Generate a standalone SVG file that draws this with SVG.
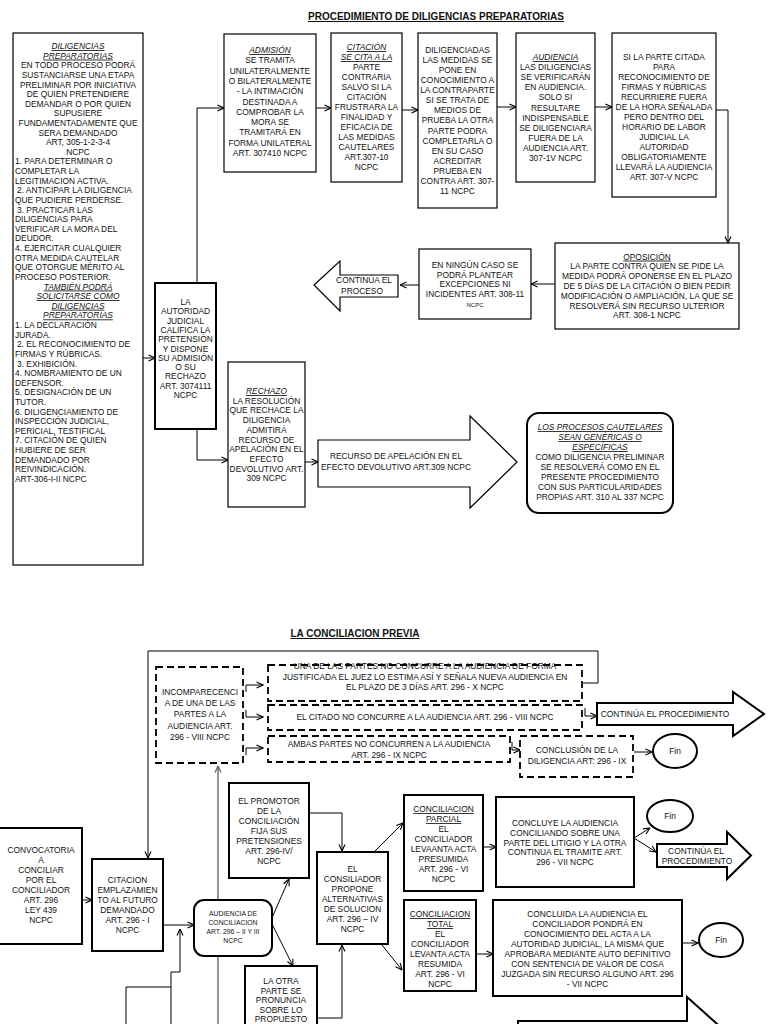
<svg xmlns="http://www.w3.org/2000/svg" width="768" height="1024" viewBox="0 0 768 1024">
<style>
.t{font-family:"Liberation Sans",Arial,sans-serif;font-size:8.4px;fill:#111;text-anchor:middle}
.l{text-anchor:start}
.iu{font-style:italic;text-decoration:underline}
.u{text-decoration:underline}
.h{font-weight:bold;font-size:10px;text-decoration:underline}
.b{fill:#fff;stroke:#000;stroke-width:1.2}
.bt{fill:#fff;stroke:#000;stroke-width:2}
.d{fill:#fff;stroke:#000;stroke-width:1.8;stroke-dasharray:7 4}
.c{fill:none;stroke:#000;stroke-width:1}
.g{fill:none;stroke:#666;stroke-width:1.4}
</style>
<defs>
<marker id="a" viewBox="0 0 8 8" refX="7.5" refY="4" markerWidth="8" markerHeight="8" markerUnits="userSpaceOnUse" orient="auto"><path d="M1,1 L7.5,4 L1,7" fill="none" stroke="#000" stroke-width="1.1"/></marker>
<marker id="ag" viewBox="0 0 8 8" refX="7.5" refY="4" markerWidth="8" markerHeight="8" markerUnits="userSpaceOnUse" orient="auto"><path d="M1,1 L7.5,4 L1,7" fill="none" stroke="#555" stroke-width="1.1"/></marker>
</defs>
<rect width="768" height="1024" fill="#fff"/>

<text class="t h" x="436" y="20">PROCEDIMIENTO DE DILIGENCIAS PREPARATORIAS</text>
<text class="t h" x="355" y="637">LA CONCILIACION PREVIA</text>

<g id="connectors">
<path class="c" d="M143,358 H155" marker-end="url(#a)"/>
<path class="c" d="M197,283 V108 H224" marker-end="url(#a)"/>
<path class="c" d="M316,108 H331" marker-end="url(#a)"/>
<path class="c" d="M402,110 H418" marker-end="url(#a)"/>
<path class="c" d="M497,107 H516" marker-end="url(#a)"/>
<path class="c" d="M595,107 H612" marker-end="url(#a)"/>
<path class="c" d="M716,110 H728 V243" marker-end="url(#a)"/>
<path class="c" d="M555,284 H531" marker-end="url(#a)"/>
<path class="c" d="M419,285 H400" marker-end="url(#a)"/>
<path class="c" d="M197,429 V460 H228" marker-end="url(#a)"/>
<path class="c" d="M305,462 H318" marker-end="url(#a)"/>

<path class="c" stroke="#444" d="M583,683 H598 V651 H148 V858" marker-end="url(#a)"/>
<path class="g" d="M218,1024 V766" marker-end="url(#ag)"/>
<path class="c" d="M246,692 V685 H263" marker-end="url(#a)"/>
<path class="c" d="M246,710 V717 H263" marker-end="url(#a)"/>
<path class="c" d="M246,755 V748 H263" marker-end="url(#a)"/>
<path class="c" d="M512,742 V750 H520" marker-end="url(#a)"/>
<path class="c" d="M634,752 H652" marker-end="url(#a)"/>
<path class="c" d="M585,708 V716 H597" marker-end="url(#a)"/>
<path class="c" d="M82,900 H92" marker-end="url(#a)"/>
<path class="c" d="M163,925 H194" marker-end="url(#a)"/>
<path class="c" d="M126,1024 V987 H171"/>
<path class="c" d="M171,1024 V972 H180 V929" marker-end="url(#a)"/>
<path class="c" d="M271,920 L289,879" marker-end="url(#a)"/>
<path class="c" d="M271,922 L293,966" marker-end="url(#a)"/>
<path class="c" d="M309,813 H342 V851" marker-end="url(#a)"/>
<path class="c" d="M317,1018 H342 V945" marker-end="url(#a)"/>
<path class="c" d="M375,851 L403,823" marker-end="url(#a)"/>
<path class="c" d="M382,945 L402,970" marker-end="url(#a)"/>
<path class="c" d="M483,847 H496" marker-end="url(#a)"/>
<path class="c" d="M634,838 L650,828" marker-end="url(#a)"/>
<path class="c" d="M634,838 L656,852" marker-end="url(#a)"/>
<path class="c" d="M476,954 H493" marker-end="url(#a)"/>
<path class="c" d="M682,943 H698" marker-end="url(#a)"/>
</g>

<g id="n-diligencias">
<rect class="b" x="13" y="33" width="130" height="532" stroke-width="1.5"/>
<text class="t iu" x="78" y="49">DILIGENCIAS</text>
<text class="t iu" x="78" y="58.6">PREPARATORIAS</text>
<text class="t" x="78" y="68.2">EN TODO PROCESO PODRÁ</text>
<text class="t" x="78" y="77.9">SUSTANCIARSE UNA ETAPA</text>
<text class="t" x="78" y="87.5">PRELIMINAR POR INICIATIVA</text>
<text class="t" x="78" y="97.1">DE QUIEN PRETENDIERE</text>
<text class="t" x="78" y="106.7">DEMANDAR O POR QUIEN</text>
<text class="t" x="78" y="116.3">SUPUSIERE</text>
<text class="t" x="78" y="126">FUNDAMENTADAMENTE QUE</text>
<text class="t" x="78" y="135.6">SERA DEMANDADO</text>
<text class="t" x="78" y="145.2">ART, 305-1-2-3-4</text>
<text class="t" x="78" y="154.8">NCPC</text>
<text class="t l" x="15" y="164.4">1. PARA DETERMINAR O</text>
<text class="t l" x="15" y="174.1">COMPLETAR LA</text>
<text class="t l" x="15" y="183.7">LEGITIMACION ACTIVA.</text>
<text class="t l" x="17" y="193.3">2. ANTICIPAR LA DILIGENCIA</text>
<text class="t l" x="15" y="202.9">QUE PUDIERE PERDERSE.</text>
<text class="t l" x="17" y="212.5">3. PRACTICAR LAS</text>
<text class="t l" x="15" y="222.2">DILIGENCIAS PARA</text>
<text class="t l" x="15" y="231.8">VERIFICAR LA MORA DEL</text>
<text class="t l" x="15" y="241.4">DEUDOR.</text>
<text class="t l" x="15" y="251">4.  EJERCITAR CUALQUIER</text>
<text class="t l" x="15" y="260.6">OTRA MEDIDA CAUTELAR</text>
<text class="t l" x="15" y="270.3">QUE OTORGUE MÉRITO AL</text>
<text class="t l" x="15" y="279.9">PROCESO POSTERIOR.</text>
<text class="t iu" x="78" y="289.5">TAMBIÉN PODRÁ</text>
<text class="t iu" x="78" y="299.1">SOLICITARSE COMO</text>
<text class="t iu" x="78" y="308.7">DILIGENCIAS</text>
<text class="t iu" x="78" y="318.4">PREPARATORIAS</text>
<text class="t l" x="15" y="328">1. LA DECLARACIÓN</text>
<text class="t l" x="15" y="337.6">JURADA.</text>
<text class="t l" x="17" y="347.2">2. EL RECONOCIMIENTO DE</text>
<text class="t l" x="15" y="356.8">FIRMAS Y RÚBRICAS.</text>
<text class="t l" x="17" y="366.5">3. EXHIBICIÓN.</text>
<text class="t l" x="15" y="376.1">4. NOMBRAMIENTO DE UN</text>
<text class="t l" x="15" y="385.7">DEFENSOR.</text>
<text class="t l" x="15" y="395.3">5. DESIGNACIÓN DE UN</text>
<text class="t l" x="15" y="404.9">TUTOR.</text>
<text class="t l" x="15" y="414.6">6. DILIGENCIAMIENTO DE</text>
<text class="t l" x="15" y="424.2">INSPECCIÓN JUDICIAL,</text>
<text class="t l" x="15" y="433.8">PERICIAL, TESTIFICAL</text>
<text class="t l" x="15" y="443.4">7. CITACIÓN DE QUIEN</text>
<text class="t l" x="15" y="453">HUBIERE DE SER</text>
<text class="t l" x="15" y="462.7">DEMANDADO POR</text>
<text class="t l" x="15" y="472.3">REIVINDICACIÓN.</text>
<text class="t l" x="15" y="481.9">ART-306-I-II NCPC</text>
</g>

<g id="n-admision">
<rect class="b" x="224" y="34" width="92" height="138"/>
<text class="t" x="270" y="53"><tspan class="iu">ADMISIÓN</tspan><tspan x="270" dy="10.3">SE TRAMITA</tspan><tspan x="270" dy="10.3">UNILATERALMENTE</tspan><tspan x="270" dy="10.3">O BILATERALMENTE</tspan><tspan x="270" dy="10.3">- LA INTIMACIÓN</tspan><tspan x="270" dy="10.3">DESTINADA A</tspan><tspan x="270" dy="10.3">COMPROBAR LA</tspan><tspan x="270" dy="10.3">MORA SE</tspan><tspan x="270" dy="10.3">TRAMITARÁ EN</tspan><tspan x="270" dy="10.3">FORMA UNILATERAL</tspan><tspan x="270" dy="10.3">ART. 307410 NCPC</tspan></text>
</g>

<g id="n-citacion">
<rect class="b" x="331" y="33" width="71" height="149"/>
<text class="t" x="366.5" y="50"><tspan class="iu">CITACIÓN</tspan><tspan class="iu" x="366.5" dy="10">SE CITA A LA</tspan><tspan x="366.5" dy="10">PARTE</tspan><tspan x="366.5" dy="10">CONTRARIA</tspan><tspan x="366.5" dy="10">SALVO SI LA</tspan><tspan x="366.5" dy="10">CITACIÓN</tspan><tspan x="366.5" dy="10">FRUSTRARA LA</tspan><tspan x="366.5" dy="10">FINALIDAD Y</tspan><tspan x="366.5" dy="10">EFICACIA DE</tspan><tspan x="366.5" dy="10">LAS MEDIDAS</tspan><tspan x="366.5" dy="10">CAUTELARES</tspan><tspan x="366.5" dy="10">ART.307-10</tspan><tspan x="366.5" dy="10">NCPC</tspan></text>
</g>

<g id="n-diligenciadas">
<rect class="b" x="418" y="33" width="79" height="175"/>
<text class="t" x="457.5" y="53"><tspan>DILIGENCIADAS</tspan><tspan x="457.5" dy="10.07">LAS MEDIDAS SE</tspan><tspan x="457.5" dy="10.07">PONE EN</tspan><tspan x="457.5" dy="10.07">CONOCIMIENTO A</tspan><tspan x="457.5" dy="10.07">LA CONTRAPARTE</tspan><tspan x="457.5" dy="10.07">SI SE TRATA DE</tspan><tspan x="457.5" dy="10.07">MEDIOS DE</tspan><tspan x="457.5" dy="10.07">PRUEBA LA OTRA</tspan><tspan x="457.5" dy="10.07">PARTE PODRA</tspan><tspan x="457.5" dy="10.07">COMPLETARLA O</tspan><tspan x="457.5" dy="10.07">EN SU CASO</tspan><tspan x="457.5" dy="10.07">ACREDITAR</tspan><tspan x="457.5" dy="10.07">PRUEBA EN</tspan><tspan x="457.5" dy="10.07">CONTRA ART. 307-</tspan><tspan x="457.5" dy="10.07">11 NCPC</tspan></text>
</g>

<g id="n-audiencia">
<rect class="b" x="516" y="33" width="79" height="149"/>
<text class="t" x="555.5" y="60"><tspan class="iu">AUDIENCIA</tspan><tspan x="555.5" dy="10.1">LAS DILIGENCIAS</tspan><tspan x="555.5" dy="10.1">SE VERIFICARÁN</tspan><tspan x="555.5" dy="10.1">EN AUDIENCIA.</tspan><tspan x="555.5" dy="10.1">SOLO SI</tspan><tspan x="555.5" dy="10.1">RESULTARE</tspan><tspan x="555.5" dy="10.1">INDISPENSABLE</tspan><tspan x="555.5" dy="10.1">SE DILIGENCIARA</tspan><tspan x="555.5" dy="10.1">FUERA DE LA</tspan><tspan x="555.5" dy="10.1">AUDIENCIA ART.</tspan><tspan x="555.5" dy="10.1">307-1V NCPC</tspan></text>
</g>

<g id="n-silaparte">
<rect class="b" x="612" y="33" width="104" height="164"/>
<text class="t" x="664" y="60"><tspan>SI LA PARTE CITADA</tspan><tspan x="664" dy="10">PARA</tspan><tspan x="664" dy="10">RECONOCIMIENTO DE</tspan><tspan x="664" dy="10">FIRMAS Y RÚBRICAS</tspan><tspan x="664" dy="10">RECURRIERE FUERA</tspan><tspan x="664" dy="10">DE LA HORA SEÑALADA</tspan><tspan x="664" dy="10">PERO DENTRO DEL</tspan><tspan x="664" dy="10">HORARIO DE LABOR</tspan><tspan x="664" dy="10">JUDICIAL LA</tspan><tspan x="664" dy="10">AUTORIDAD</tspan><tspan x="664" dy="10">OBLIGATORIAMENTE</tspan><tspan x="664" dy="10">LLEVARÁ LA AUDIENCIA</tspan><tspan x="664" dy="10">ART. 307-V NCPC</tspan></text>
</g>

<g id="n-oposicion">
<rect class="b" x="555" y="243" width="184" height="86"/>
<text class="t" x="647" y="259.6"><tspan class="u">OPOSICIÓN</tspan><tspan x="647" dy="9.8">LA PARTE CONTRA QUIEN SE PIDE LA</tspan><tspan x="647" dy="9.8">MEDIDA PODRÁ OPONERSE EN EL PLAZO</tspan><tspan x="647" dy="9.8">DE 5 DÍAS DE LA CITACIÓN O BIEN PEDIR</tspan><tspan x="647" dy="9.8">MODIFICACIÓN O AMPLIACIÓN, LA QUE SE</tspan><tspan x="647" dy="9.8">RESOLVERÁ SIN RECURSO ULTERIOR</tspan><tspan x="647" dy="9.8">ART. 308-1 NCPC</tspan></text>
</g>

<g id="n-ninguncaso">
<rect class="b" x="419" y="249" width="112" height="70"/>
<text class="t" x="475" y="268"><tspan>EN NINGÚN CASO SE</tspan><tspan x="475" dy="9.5">PODRÁ PLANTEAR</tspan><tspan x="475" dy="9.5">EXCEPCIONES NI</tspan><tspan x="475" dy="10">INCIDENTES ART. 308-11</tspan><tspan x="475" dy="9.5" style="font-size:6px">NCPC</tspan></text>
</g>

<g id="n-continua1">
<polygon class="b" points="314,285 340,261 340,275 398,275 398,297 340,297 340,311"/>
<text class="t" x="364" y="283"><tspan>CONTINÚA EL</tspan><tspan x="362" dy="11">PROCESO</tspan></text>
</g>

<g id="n-autoridad">
<rect class="bt" x="155" y="283" width="61" height="146"/>
<text class="t" x="185.5" y="305"><tspan>LA</tspan><tspan x="185.5" dy="9.3">AUTORIDAD</tspan><tspan x="185.5" dy="9.3">JUDICIAL</tspan><tspan x="185.5" dy="9.3">CALIFICA LA</tspan><tspan x="185.5" dy="9.3">PRETENSIÓN</tspan><tspan x="185.5" dy="9.3">Y DISPONE</tspan><tspan x="185.5" dy="9.3">SU ADMISIÓN</tspan><tspan x="185.5" dy="9.3">O SU</tspan><tspan x="185.5" dy="9.3">RECHAZO</tspan><tspan x="185.5" dy="9.3">ART. 3074111</tspan><tspan x="185.5" dy="9.3">NCPC</tspan></text>
</g>

<g id="n-rechazo">
<rect class="b" x="228" y="362" width="77" height="145"/>
<text class="t" x="266.5" y="394"><tspan class="iu">RECHAZO</tspan><tspan x="266.5" dy="9.7">LA RESOLUCIÓN</tspan><tspan x="266.5" dy="9.7">QUE RECHACE LA</tspan><tspan x="266.5" dy="9.7">DILIGENCIA</tspan><tspan x="266.5" dy="9.7">ADMITIRÁ</tspan><tspan x="266.5" dy="9.7">RECURSO DE</tspan><tspan x="266.5" dy="9.7">APELACIÓN EN EL</tspan><tspan x="266.5" dy="9.7">EFECTO</tspan><tspan x="266.5" dy="9.7">DEVOLUTIVO ART.</tspan><tspan x="266.5" dy="9.7">309 NCPC</tspan></text>
</g>

<g id="n-recurso">
<polygon class="b" points="318,440 470,440 470,416 517,462 470,508 470,487 318,487"/>
<text class="t" x="396" y="459"><tspan>RECURSO DE APELACIÓN EN EL</tspan><tspan x="396" dy="11">EFECTO DEVOLUTIVO ART.309 NCPC</tspan></text>
</g>

<g id="n-procesos">
<rect class="bt" x="527" y="413" width="146" height="100" rx="12"/>
<text class="t" x="600" y="430"><tspan class="iu">LOS PROCESOS CAUTELARES</tspan><tspan class="iu" x="600" dy="10">SEAN GENÉRICAS O</tspan><tspan class="iu" x="600" dy="10">ESPECÍFICAS</tspan><tspan x="600" dy="10">COMO DILIGENCIA PRELIMINAR</tspan><tspan x="600" dy="10">SE RESOLVERÁ COMO EN EL</tspan><tspan x="600" dy="10">PRESENTE PROCEDIMIENTO</tspan><tspan x="600" dy="10">CON SUS PARTICULARIDADES</tspan><tspan x="600" dy="10">PROPIAS ART. 310 AL 337 NCPC</tspan></text>
</g>

<g id="n-incomparecencia">
<rect class="d" x="156" y="667" width="87" height="96"/>
<text class="t" x="200" y="695"><tspan>INCOMPARECENCI</tspan><tspan x="200" dy="11.2">A DE UNA DE LAS</tspan><tspan x="200" dy="11.2">PARTES A LA</tspan><tspan x="200" dy="11.2">AUDIENCIA ART.</tspan><tspan x="200" dy="11.2">296 - VIII NCPC</tspan></text>
</g>

<g id="n-unadelas">
<rect class="d" x="268" y="665" width="314" height="36"/>
<text class="t" x="425" y="669"><tspan>UNA DE LAS PARTES NO CONCURRE A LA AUDIENCIA DE FORMA</tspan><tspan x="425" dy="10.5">JUSTIFICADA EL JUEZ LO ESTIMA ASÍ Y SEÑALA NUEVA AUDIENCIA EN</tspan><tspan x="425" dy="10.5">EL PLAZO DE 3 DÍAS ART. 296 - X NCPC</tspan></text>
</g>

<g id="n-citado">
<rect class="d" x="268" y="705" width="314" height="25"/>
<text class="t" x="425" y="720">EL CITADO NO CONCURRE A LA AUDIENCIA ART. 296 - VIII NCPC</text>
</g>

<g id="n-ambas">
<rect class="d" x="268" y="736" width="242" height="26"/>
<text class="t" x="389" y="747"><tspan>AMBAS PARTES NO CONCURREN A LA AUDIENCIA</tspan><tspan x="389" dy="11">ART. 296 - IX NCPC</tspan></text>
</g>

<g id="n-conclusion">
<rect class="d" x="520" y="736" width="113" height="41"/>
<text class="t" x="577" y="753"><tspan>CONCLUSIÓN DE LA</tspan><tspan x="577" dy="11">DILIGENCIA ART: 296 - IX</tspan></text>
</g>

<g id="n-fin1">
<ellipse class="bt" cx="675" cy="751" rx="22" ry="17"/>
<text class="t" x="675" y="754">Fin</text>
</g>

<g id="n-continua2">
<polygon class="bt" points="597,703 733,703 733,692 764,714 733,736 733,725 597,725"/>
<text class="t" x="665" y="717">CONTINÚA EL PROCEDIMIENTO</text>
</g>

<g id="n-convocatoria">
<rect class="bt" x="-1" y="828" width="83" height="116"/>
<text class="t" x="41" y="853"><tspan>CONVOCATORIA</tspan><tspan x="41" dy="10">A</tspan><tspan x="41" dy="10">CONCILIAR</tspan><tspan x="41" dy="10">POR EL</tspan><tspan x="41" dy="10">CONCILIADOR</tspan><tspan x="41" dy="10">ART. 296</tspan><tspan x="41" dy="10">LEY 439</tspan><tspan x="41" dy="10">NCPC</tspan></text>
</g>

<g id="n-citacion2">
<rect class="bt" x="92" y="859" width="71" height="92"/>
<text class="t" x="127.5" y="883"><tspan>CITACION</tspan><tspan x="127.5" dy="10">EMPLAZAMIEN</tspan><tspan x="127.5" dy="10">TO AL FUTURO</tspan><tspan x="127.5" dy="10">DEMANDADO</tspan><tspan x="127.5" dy="10">ART. 296 - I</tspan><tspan x="127.5" dy="10">NCPC</tspan></text>
</g>

<g id="n-audiencia2">
<rect class="bt" x="194" y="900" width="78" height="56" rx="10"/>
<text class="t" x="233" y="916" style="font-size:6.8px"><tspan>AUDIENCIA DE</tspan><tspan x="233" dy="9">CONCILIACION</tspan><tspan x="233" dy="9">ART. 296 – II Y III</tspan><tspan x="233" dy="9">NCPC</tspan></text>
</g>

<g id="n-promotor">
<rect class="bt" x="229" y="783" width="80" height="95"/>
<text class="t" x="269" y="804"><tspan>EL PROMOTOR</tspan><tspan x="269" dy="10">DE LA</tspan><tspan x="269" dy="10">CONCILIACIÓN</tspan><tspan x="269" dy="10">FIJA SUS</tspan><tspan x="269" dy="10">PRETENSIONES</tspan><tspan x="269" dy="10">ART. 296-IV/</tspan><tspan x="269" dy="10">NCPC</tspan></text>
</g>

<g id="n-laotra">
<rect class="bt" x="245" y="966" width="72" height="70"/>
<text class="t" x="281" y="984"><tspan>LA OTRA</tspan><tspan x="281" dy="9.6">PARTE SE</tspan><tspan x="281" dy="9.6">PRONUNCIA</tspan><tspan x="281" dy="9.6">SOBRE LO</tspan><tspan x="281" dy="9.6">PROPUESTO</tspan></text>
</g>

<g id="n-consiliador">
<rect class="bt" x="317" y="852" width="71" height="92"/>
<text class="t" x="352.5" y="872"><tspan>EL</tspan><tspan x="352.5" dy="10">CONSILIADOR</tspan><tspan x="352.5" dy="10">PROPONE</tspan><tspan x="352.5" dy="10">ALTERNATIVAS</tspan><tspan x="352.5" dy="10">DE SOLUCION</tspan><tspan x="352.5" dy="10">ART. 296 – IV</tspan><tspan x="352.5" dy="10">NCPC</tspan></text>
</g>

<g id="n-parcial">
<rect class="bt" x="404" y="795" width="79" height="96"/>
<text class="t" x="443.5" y="812"><tspan class="u">CONCILIACION</tspan><tspan class="u" x="443.5" dy="10">PARCIAL</tspan><tspan x="443.5" dy="10">EL</tspan><tspan x="443.5" dy="10">CONCILIADOR</tspan><tspan x="443.5" dy="10">LEVAANTA ACTA</tspan><tspan x="443.5" dy="10">PRESUMIDA</tspan><tspan x="443.5" dy="10">ART. 296 - VI</tspan><tspan x="443.5" dy="10">NCPC</tspan></text>
</g>

<g id="n-concluye">
<rect class="bt" x="496" y="797" width="138" height="90"/>
<text class="t" x="565" y="826"><tspan>CONCLUYE LA AUDIENCIA</tspan><tspan x="565" dy="9.8">CONCILIANDO SOBRE UNA</tspan><tspan x="565" dy="9.8">PARTE DEL LITIGIO Y LA OTRA</tspan><tspan x="565" dy="9.8">CONTINUA EL TRAMITE ART.</tspan><tspan x="565" dy="9.8">296 - VII NCPC</tspan></text>
</g>

<g id="n-fin2">
<ellipse class="bt" cx="670" cy="816" rx="23" ry="16"/>
<text class="t" x="670" y="819">Fin</text>
</g>

<g id="n-continua3">
<polygon class="bt" points="657,844 727,844 727,832 751,855.5 727,879 727,867 657,867"/>
<text class="t" x="696" y="854"><tspan>CONTINÚA EL</tspan><tspan x="697" dy="10">PROCEDIMIENTO</tspan></text>
</g>

<g id="n-total">
<rect class="bt" x="404" y="900" width="72" height="91"/>
<text class="t" x="440" y="917"><tspan class="u">CONCILIACION</tspan><tspan class="u" x="440" dy="10">TOTAL</tspan><tspan x="440" dy="10">EL</tspan><tspan x="440" dy="10">CONCILIADOR</tspan><tspan x="440" dy="10">LEVANTA ACTA</tspan><tspan x="440" dy="10">RESUMIDA</tspan><tspan x="440" dy="10">ART. 296 - VI</tspan><tspan x="440" dy="10">NCPC</tspan></text>
</g>

<g id="n-concluida">
<rect class="bt" x="493" y="900" width="189" height="96"/>
<text class="t" x="587.5" y="917"><tspan>CONCLUIDA LA AUDIENCIA EL</tspan><tspan x="587.5" dy="10">CONCILIADOR PONDRÁ EN</tspan><tspan x="587.5" dy="10">CONOCIMIENTO DEL ACTA A LA</tspan><tspan x="587.5" dy="10">AUTORIDAD JUDICIAL, LA MISMA QUE</tspan><tspan x="587.5" dy="10">APROBARA MEDIANTE AUTO DEFINITIVO</tspan><tspan x="587.5" dy="10">CON SENTENCIA DE VALOR DE COSA</tspan><tspan x="587.5" dy="10">JUZGADA SIN RECURSO ALGUNO ART. 296</tspan><tspan x="587.5" dy="10">- VII NCPC</tspan></text>
</g>

<g id="n-fin3">
<ellipse class="bt" cx="721" cy="940" rx="22" ry="17"/>
<text class="t" x="721" y="943">Fin</text>
</g>

<g id="n-bigarrow">
<polygon class="bt" points="518,1040 518,1021 687,1021 687,997 735,1040"/>
</g>
</svg>
